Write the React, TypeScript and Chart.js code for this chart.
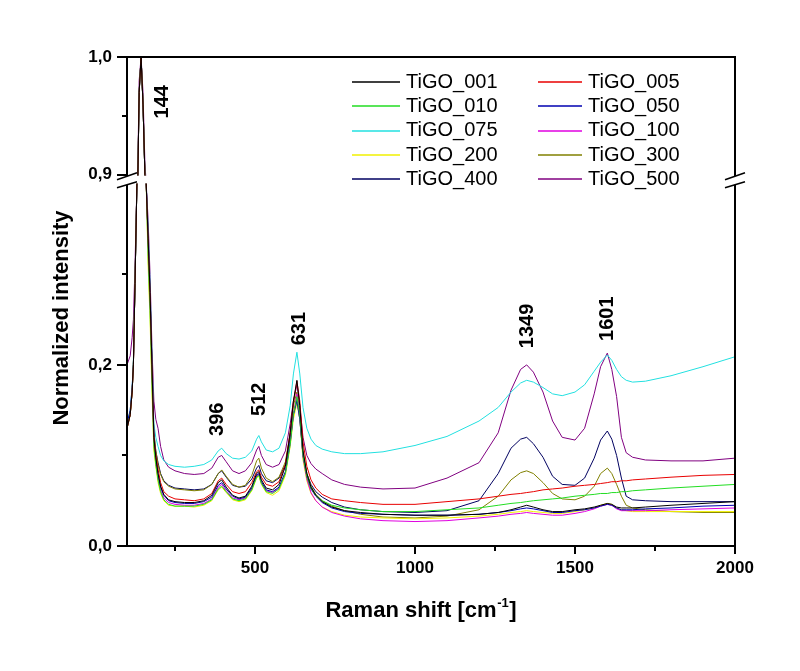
import React, { useEffect, useRef } from 'react';
import { Chart, registerables } from 'chart.js';

Chart.register(...registerables);

// ---------------- data ----------------
const ramanShift = [
  100, 110, 116, 120, 125, 131, 134, 138, 144, 150,
  156, 160, 166, 172, 178, 184, 190, 197, 205, 215,
  230, 250, 280, 310, 340, 365, 385, 396, 410, 430,
  450, 470, 490, 505, 512, 520, 535, 555, 575, 595,
  610, 620, 631, 640, 650, 662, 675, 690, 710, 740,
  780, 830, 900, 1000, 1100, 1200, 1260, 1300, 1330, 1349,
  1370, 1400, 1430, 1460, 1500, 1530, 1560, 1580, 1601, 1615,
  1630, 1645, 1660, 1680, 1720, 1800, 1900, 2000,
];

const tigo001 = [
  0.13, 0.145, 0.17, 0.20, 0.29, 0.40, 0.90, 0.97, 1.0, 0.96, 0.90, 0.42, 0.34, 0.28, 0.20,
  0.12, 0.098, 0.08, 0.066, 0.057, 0.051, 0.049,
  0.048, 0.048, 0.050, 0.056, 0.070, 0.073, 0.065, 0.056, 0.053, 0.055, 0.066, 0.080, 0.082, 0.073, 0.064, 0.062, 0.068, 0.088, 0.125, 0.16, 0.183,
  0.155, 0.105, 0.08, 0.065, 0.056, 0.049, 0.043, 0.039, 0.037, 0.035, 0.034,
  0.034, 0.035, 0.037, 0.040, 0.043, 0.045, 0.043, 0.040, 0.038, 0.038, 0.040, 0.041, 0.043, 0.045, 0.047, 0.046, 0.043, 0.042, 0.042, 0.042, 0.043, 0.045, 0.047, 0.049,
];
const tigo005 = [
  0.13, 0.145, 0.17, 0.20, 0.29, 0.40, 0.90, 0.97, 1.0, 0.96, 0.90, 0.42, 0.34, 0.28, 0.20,
  0.12, 0.10, 0.085, 0.070, 0.060, 0.055, 0.052,
  0.051, 0.050, 0.052, 0.058, 0.072, 0.075, 0.068, 0.060, 0.058, 0.060, 0.070, 0.082, 0.084, 0.076, 0.068, 0.066, 0.071, 0.090, 0.125, 0.158, 0.182,
  0.16, 0.115, 0.088, 0.073, 0.064, 0.057, 0.052, 0.050, 0.048, 0.046, 0.046,
  0.049, 0.052, 0.055, 0.057, 0.058, 0.059, 0.060, 0.062, 0.063, 0.064, 0.066, 0.067, 0.068, 0.069, 0.070, 0.071, 0.071, 0.072, 0.072, 0.073, 0.074, 0.076, 0.078, 0.079,
];
const tigo010 = [
  0.13, 0.145, 0.17, 0.20, 0.29, 0.40, 0.90, 0.97, 1.0, 0.96, 0.89, 0.41, 0.32, 0.26, 0.18,
  0.11, 0.09, 0.073, 0.060, 0.051, 0.046, 0.044,
  0.044, 0.044, 0.046, 0.051, 0.063, 0.066, 0.060, 0.052, 0.050, 0.052, 0.062, 0.076, 0.078, 0.069, 0.060, 0.058, 0.063, 0.080, 0.112, 0.145, 0.165,
  0.145, 0.10, 0.077, 0.064, 0.056, 0.050, 0.045, 0.042, 0.040, 0.038, 0.038,
  0.040, 0.042, 0.045, 0.047, 0.048, 0.049, 0.050, 0.051, 0.052, 0.053, 0.055, 0.056, 0.057, 0.058, 0.058, 0.059, 0.059, 0.060, 0.060, 0.061, 0.062, 0.064, 0.066, 0.068,
];
const tigo050 = [
  0.135, 0.15, 0.175, 0.20, 0.29, 0.40, 0.90, 0.97, 1.0, 0.96, 0.90, 0.42, 0.34, 0.28, 0.20,
  0.12, 0.097, 0.079, 0.065, 0.056, 0.050, 0.048,
  0.047, 0.047, 0.049, 0.054, 0.067, 0.070, 0.063, 0.055, 0.052, 0.054, 0.064, 0.078, 0.080, 0.071, 0.062, 0.060, 0.065, 0.082, 0.115, 0.145, 0.160,
  0.14, 0.10, 0.077, 0.063, 0.055, 0.048, 0.042, 0.038, 0.036, 0.035, 0.034,
  0.034, 0.035, 0.037, 0.039, 0.041, 0.042, 0.041, 0.039, 0.037, 0.037, 0.039, 0.040, 0.042, 0.044, 0.046, 0.045, 0.042, 0.040, 0.040, 0.040, 0.041, 0.042, 0.044, 0.045,
];
const tigo075 = [
  0.135, 0.15, 0.175, 0.205, 0.29, 0.40, 0.90, 0.97, 1.0, 0.96, 0.90, 0.43, 0.35, 0.29, 0.21,
  0.135, 0.12, 0.11, 0.10, 0.094, 0.090, 0.088,
  0.087, 0.088, 0.090, 0.095, 0.105, 0.108, 0.102, 0.097, 0.096, 0.098, 0.105, 0.118, 0.122, 0.115, 0.106, 0.104, 0.108, 0.125, 0.155, 0.19, 0.214,
  0.19, 0.153, 0.13, 0.118, 0.111, 0.107, 0.104, 0.102, 0.102, 0.104, 0.111,
  0.121, 0.138, 0.153, 0.170, 0.18, 0.183, 0.181, 0.175, 0.168, 0.166, 0.170, 0.178, 0.193, 0.203, 0.211, 0.205, 0.195, 0.187, 0.183, 0.181, 0.182, 0.188, 0.198, 0.209,
];
const tigo100 = [
  0.13, 0.145, 0.17, 0.20, 0.29, 0.40, 0.90, 0.97, 1.0, 0.96, 0.90, 0.42, 0.33, 0.27, 0.19,
  0.115, 0.093, 0.075, 0.062, 0.053, 0.048, 0.046,
  0.045, 0.045, 0.047, 0.052, 0.065, 0.068, 0.061, 0.053, 0.051, 0.053, 0.063, 0.077, 0.079, 0.070, 0.061, 0.059, 0.064, 0.081, 0.113, 0.145, 0.168,
  0.145, 0.098, 0.074, 0.059, 0.050, 0.043, 0.037, 0.033, 0.030, 0.028, 0.027,
  0.028, 0.031, 0.033, 0.035, 0.036, 0.037, 0.036, 0.035, 0.034, 0.034, 0.036, 0.038, 0.041, 0.044, 0.046, 0.045, 0.041, 0.039, 0.039, 0.039, 0.039, 0.040, 0.041, 0.042,
];
const tigo200 = [
  0.13, 0.145, 0.17, 0.20, 0.29, 0.40, 0.90, 0.97, 1.0, 0.96, 0.88, 0.40, 0.31, 0.25, 0.17,
  0.105, 0.088, 0.070, 0.058, 0.050, 0.045, 0.044,
  0.044, 0.043, 0.045, 0.050, 0.062, 0.065, 0.059, 0.051, 0.049, 0.051, 0.061, 0.075, 0.077, 0.068, 0.059, 0.056, 0.061, 0.078, 0.110, 0.140, 0.158,
  0.14, 0.095, 0.072, 0.058, 0.050, 0.043, 0.038, 0.034, 0.032, 0.031, 0.030,
  0.031, 0.033, 0.035, 0.037, 0.038, 0.039, 0.038, 0.037, 0.036, 0.036, 0.038, 0.040, 0.042, 0.045, 0.047, 0.046, 0.042, 0.040, 0.039, 0.038, 0.038, 0.038, 0.038, 0.038,
];
const tigo300 = [
  0.13, 0.145, 0.17, 0.20, 0.29, 0.40, 0.90, 0.97, 1.0, 0.96, 0.90, 0.42, 0.34, 0.28, 0.20,
  0.125, 0.105, 0.09, 0.079, 0.071, 0.066, 0.063,
  0.062, 0.061, 0.062, 0.068, 0.080, 0.084, 0.077, 0.068, 0.065, 0.067, 0.078, 0.094, 0.097, 0.086, 0.075, 0.071, 0.076, 0.093, 0.125, 0.155, 0.170,
  0.15, 0.105, 0.08, 0.066, 0.057, 0.050, 0.044, 0.039, 0.035, 0.032, 0.031,
  0.033, 0.040, 0.055, 0.073, 0.081, 0.083, 0.080, 0.070, 0.058, 0.052, 0.051, 0.055, 0.066, 0.080, 0.086, 0.080, 0.068, 0.055, 0.045, 0.042, 0.040, 0.038, 0.037, 0.037,
];
const tigo400 = [
  0.13, 0.145, 0.17, 0.20, 0.29, 0.40, 0.90, 0.97, 1.0, 0.96, 0.90, 0.42, 0.34, 0.28, 0.20,
  0.125, 0.105, 0.092, 0.080, 0.072, 0.067, 0.064,
  0.063, 0.062, 0.063, 0.068, 0.080, 0.083, 0.076, 0.067, 0.065, 0.066, 0.074, 0.086, 0.089, 0.080, 0.072, 0.070, 0.075, 0.090, 0.120, 0.145, 0.162,
  0.14, 0.10, 0.08, 0.068, 0.060, 0.054, 0.048, 0.043, 0.040, 0.038, 0.037,
  0.039, 0.050, 0.080, 0.108, 0.118, 0.120, 0.113, 0.098, 0.077, 0.068, 0.067, 0.075, 0.097, 0.117, 0.127, 0.118, 0.100, 0.075, 0.055, 0.051, 0.050, 0.049, 0.049, 0.049,
];
const tigo500 = [
  0.20, 0.21, 0.23, 0.25, 0.31, 0.42, 0.91, 0.98, 1.0, 0.97, 0.91, 0.44, 0.36, 0.30, 0.22,
  0.16, 0.14, 0.13, 0.11, 0.095, 0.087, 0.083,
  0.080, 0.079, 0.080, 0.086, 0.098, 0.100, 0.093, 0.083, 0.080, 0.083, 0.092, 0.106, 0.110, 0.100, 0.090, 0.087, 0.090, 0.105, 0.135, 0.160, 0.178,
  0.155, 0.12, 0.10, 0.091, 0.085, 0.080, 0.073, 0.068, 0.065, 0.063, 0.064,
  0.075, 0.092, 0.125, 0.172, 0.195, 0.200, 0.192, 0.170, 0.138, 0.120, 0.117, 0.130, 0.168, 0.198, 0.213, 0.195, 0.165, 0.12, 0.103, 0.098, 0.095, 0.094, 0.094, 0.097,
];

const seriesNames = ['TiGO_001', 'TiGO_005', 'TiGO_010', 'TiGO_050', 'TiGO_075', 'TiGO_100', 'TiGO_200', 'TiGO_300', 'TiGO_400', 'TiGO_500'];
const seriesValues = [tigo001, tigo005, tigo010, tigo050, tigo075, tigo100, tigo200, tigo300, tigo400, tigo500];
const seriesColors = ['#000000', '#E80000', '#22DD22', '#0000B0', '#22E0E0', '#E000E0', '#F0F000', '#808000', '#000060', '#800080'];

const xTickValues = [500, 1000, 1500, 2000];
const xMinorTickValues = [250, 750, 1250, 1750];
const yTickValues = [0, 0.2, 0.9, 1.0];
const yTickLabels = ['0,0', '0,2', '0,9', '1,0'];
const yMinorTickValues = [0.1, 0.3, 0.95];

const peakLabels = ['144', '396', '512', '631', '1349', '1601'];
const peakLabelX = [212, 384, 515, 638, 1353, 1603];
const peakLabelY = [0.962, 0.140, 0.162, 0.240, 0.243, 0.251];

// broken y axis: 0..0.4 and 0.9..1.0
const LOW_TOP = 0.4;
const HIGH_BOTTOM = 0.9;
const GAP = 0.01;
const UPPER_STRETCH = 1.3;
function toAxis(v: number): number {
  if (v <= LOW_TOP) return v;
  if (v < HIGH_BOTTOM) return LOW_TOP + ((v - LOW_TOP) / (HIGH_BOTTOM - LOW_TOP)) * GAP;
  return LOW_TOP + GAP + (v - HIGH_BOTTOM) * UPPER_STRETCH;
}

const FONT = "Arial, 'Liberation Sans', sans-serif";

const decorPlugin = {
  id: 'decor',
  afterDatasetsDraw(chart: any) {
    const { ctx, chartArea: a, scales } = chart;
    const y = scales.y;
    const yTop = y.getPixelForValue(toAxis(HIGH_BOTTOM));
    const yBot = y.getPixelForValue(toAxis(LOW_TOP));
    ctx.save();
    ctx.fillStyle = '#ffffff';
    ctx.fillRect(a.left + 1, yTop + 1, 60, yBot - yTop - 1.5);
    ctx.restore();
  },
  afterDraw(chart: any) {
    const { ctx, chartArea: a, scales } = chart;
    const x = scales.x;
    const y = scales.y;
    ctx.save();
    // frame
    ctx.strokeStyle = '#000';
    ctx.lineWidth = 2;
    ctx.strokeRect(a.left, a.top, a.right - a.left, a.bottom - a.top);
    // ticks
    ctx.beginPath();
    xTickValues.forEach((v) => {
      const px = Math.round(x.getPixelForValue(v));
      ctx.moveTo(px, a.bottom);
      ctx.lineTo(px, a.bottom + 8);
    });
    xMinorTickValues.forEach((v) => {
      const px = Math.round(x.getPixelForValue(v));
      ctx.moveTo(px, a.bottom);
      ctx.lineTo(px, a.bottom + 5);
    });
    yTickValues.forEach((v) => {
      const py = Math.round(y.getPixelForValue(toAxis(v)));
      ctx.moveTo(a.left - 10, py);
      ctx.lineTo(a.left, py);
    });
    yMinorTickValues.forEach((v) => {
      const py = Math.round(y.getPixelForValue(toAxis(v)));
      ctx.moveTo(a.left - 5, py);
      ctx.lineTo(a.left, py);
    });
    ctx.stroke();

    // axis breaks
    const yTop = y.getPixelForValue(toAxis(HIGH_BOTTOM));
    const yBot = y.getPixelForValue(toAxis(LOW_TOP));
    [a.left, a.right].forEach((ax) => {
      ctx.fillStyle = '#fff';
      ctx.beginPath();
      ctx.moveTo(ax - 10, yTop + 5);
      ctx.lineTo(ax + 10, yTop - 2);
      ctx.lineTo(ax + 10, yBot - 2);
      ctx.lineTo(ax - 10, yBot + 4);
      ctx.closePath();
      ctx.fill();
      ctx.strokeStyle = '#000';
      ctx.lineWidth = 1.5;
      ctx.beginPath();
      ctx.moveTo(ax - 10, yTop + 5);
      ctx.lineTo(ax + 10, yTop - 2);
      ctx.moveTo(ax - 10, yBot + 4);
      ctx.lineTo(ax + 10, yBot - 2);
      ctx.stroke();
    });

    // peak labels
    ctx.fillStyle = '#000';
    ctx.font = `bold 20px ${FONT}`;
    ctx.textAlign = 'center';
    ctx.textBaseline = 'middle';
    peakLabels.forEach((t, i) => {
      const px = x.getPixelForValue(peakLabelX[i]);
      const py = y.getPixelForValue(toAxis(peakLabelY[i]));
      ctx.save();
      ctx.translate(px, py);
      ctx.rotate(-Math.PI / 2);
      ctx.fillText(t, 0, 0);
      ctx.restore();
    });

    // legend (2 columns x 5 rows)
    const rowY = [82, 106.3, 130.6, 155, 179.3];
    const cols = [
      { lx1: 352, lx2: 400, tx: 406 },
      { lx1: 538, lx2: 582, tx: 588 },
    ];
    ctx.font = `20px ${FONT}`;
    ctx.textAlign = 'left';
    ctx.textBaseline = 'middle';
    seriesNames.forEach((name, i) => {
      const c = cols[i % 2];
      const ry = rowY[Math.floor(i / 2)];
      ctx.strokeStyle = seriesColors[i];
      ctx.lineWidth = 1.5;
      ctx.beginPath();
      ctx.moveTo(c.lx1, Math.round(ry));
      ctx.lineTo(c.lx2, Math.round(ry));
      ctx.stroke();
      ctx.fillStyle = '#000';
      ctx.fillText(name, c.tx, ry);
    });

    // axis titles
    ctx.fillStyle = '#000';
    const mainFont = `bold 22px ${FONT}`;
    const supFont = `bold 13px ${FONT}`;
    const p1 = 'Raman shift [cm';
    const p2 = '-1';
    const p3 = ']';
    ctx.font = mainFont;
    const w1 = ctx.measureText(p1).width;
    const w3 = ctx.measureText(p3).width;
    ctx.font = supFont;
    const w2 = ctx.measureText(p2).width;
    const total = w1 + w2 + w3 + 1;
    const cx = 421;
    const base = 617;
    let sx = cx - total / 2;
    ctx.textAlign = 'left';
    ctx.textBaseline = 'alphabetic';
    ctx.font = mainFont;
    ctx.fillText(p1, sx, base);
    sx += w1 + 0.5;
    ctx.font = supFont;
    ctx.fillText(p2, sx, base - 10);
    sx += w2 + 0.5;
    ctx.font = mainFont;
    ctx.fillText(p3, sx, base);

    ctx.save();
    ctx.translate(62, 318);
    ctx.rotate(-Math.PI / 2);
    ctx.textAlign = 'center';
    ctx.textBaseline = 'middle';
    ctx.font = mainFont;
    ctx.fillText('Normalized intensity', 0, 0);
    ctx.restore();

    ctx.restore();
  },
};

export default function App() {
  const canvasRef = useRef<HTMLCanvasElement | null>(null);

  useEffect(() => {
    const canvas = canvasRef.current;
    if (!canvas) return;
    const datasets = seriesNames.map((name, i) => ({
      label: name,
      data: ramanShift.map((xv, j) => ({ x: xv, y: toAxis(seriesValues[i][j]) })),
      borderColor: seriesColors[i],
      backgroundColor: seriesColors[i],
      borderWidth: 1,
      pointRadius: 0,
      tension: 0,
      fill: false,
    }));
    const chart = new Chart(canvas, {
      type: 'line',
      data: { datasets },
      options: {
        animation: false,
        responsive: false,
        devicePixelRatio: 1,
        layout: { padding: { top: 57, right: 65, left: 0, bottom: 0 } },
        plugins: {
          legend: { display: false },
          tooltip: { enabled: false },
          title: { display: false },
        },
        scales: {
          x: {
            type: 'linear',
            min: 100,
            max: 2000,
            grid: { display: false, drawTicks: false },
            border: { display: false },
            afterBuildTicks: (scale: any) => {
              scale.ticks = xTickValues.map((v) => ({ value: v }));
            },
            afterFit: (scale: any) => {
              scale.height = 125;
            },
            ticks: {
              autoSkip: false,
              maxRotation: 0,
              padding: 12,
              color: '#000',
              font: { family: FONT, size: 17, weight: 'bold' },
              callback: (v: any) => String(v),
            },
          },
          y: {
            type: 'linear',
            min: 0,
            max: toAxis(1.0),
            grid: { display: false, drawTicks: false },
            border: { display: false },
            afterBuildTicks: (scale: any) => {
              scale.ticks = yTickValues.map((v) => ({ value: toAxis(v) }));
            },
            afterFit: (scale: any) => {
              scale.width = 127;
            },
            ticks: {
              autoSkip: false,
              padding: 15,
              color: '#000',
              font: { family: FONT, size: 17, weight: 'bold' },
              callback: (_v: any, idx: number) => yTickLabels[idx],
            },
          },
        },
      },
      plugins: [decorPlugin],
    } as any);
    return () => chart.destroy();
  }, []);

  return (
    <div style={{ position: 'fixed', left: 0, top: 0, width: 800, height: 671, background: '#fff' }}>
      <canvas ref={canvasRef} width={800} height={671} style={{ width: 800, height: 671, display: 'block' }} />
    </div>
  );
}
